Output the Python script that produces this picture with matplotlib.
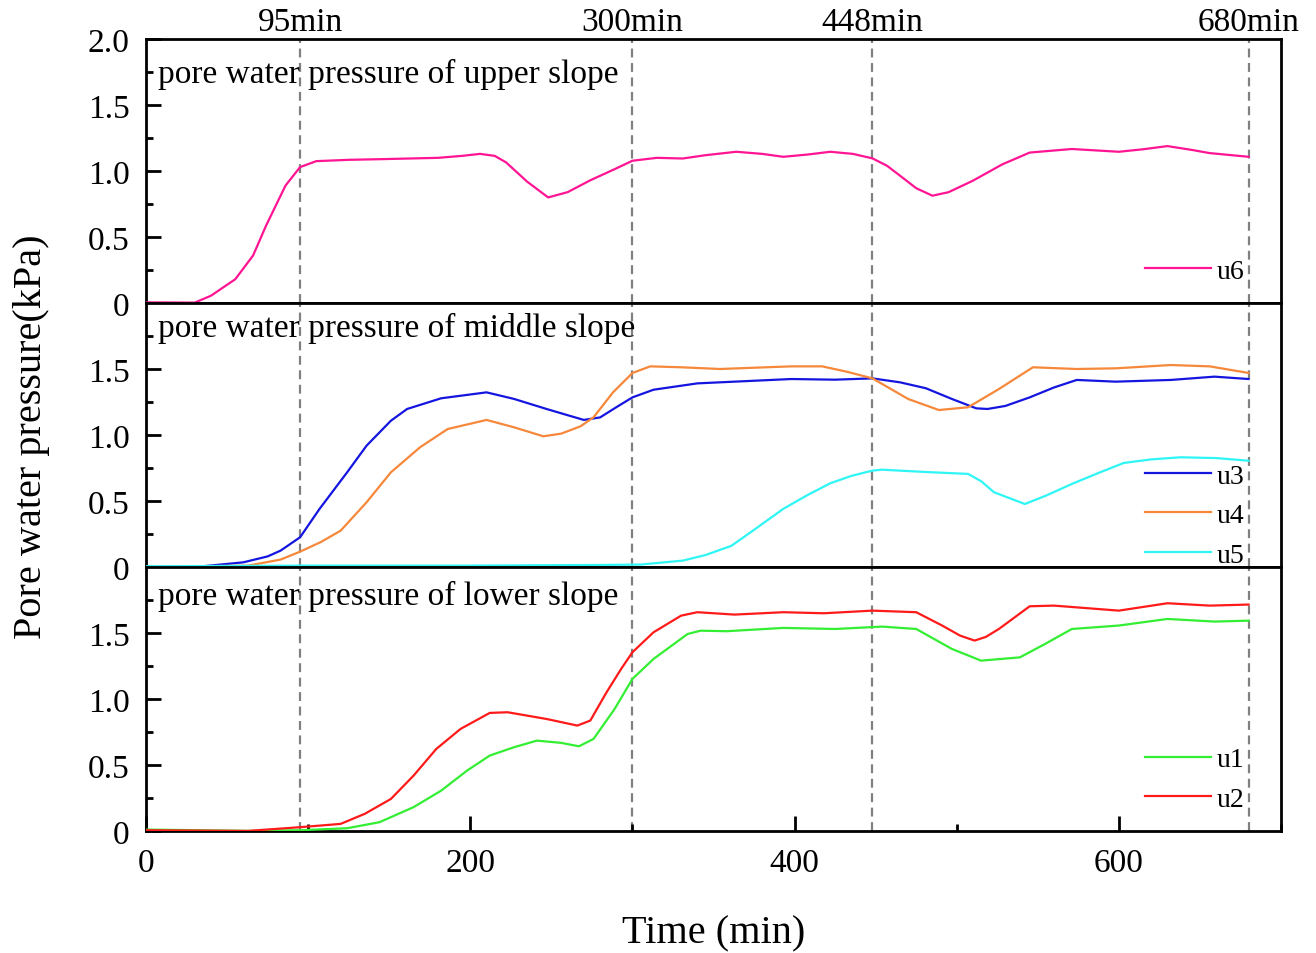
import numpy as np
import matplotlib
matplotlib.use("Agg")
from matplotlib import pyplot as plt
from matplotlib.ticker import MultipleLocator, FixedLocator

plt.rcParams['font.family'] = ['Liberation Serif', 'DejaVu Serif']

# upper slope
t_u6 = [0, 30, 40, 55, 66, 74, 86, 95, 105, 125, 145, 180, 195, 206, 215, 222, 235, 248, 260, 274,
        290, 300, 315, 331, 345, 364, 380, 393, 408, 422, 436, 448, 457, 465, 475, 485, 495, 510,
        528, 545, 571, 600, 615, 630, 645, 656, 680]
u6 = [0.005, 0.003, 0.055, 0.18, 0.36, 0.586, 0.89, 1.03, 1.075, 1.085, 1.09, 1.10, 1.115, 1.13, 1.115,
      1.066, 0.92, 0.80, 0.84, 0.93, 1.02, 1.078, 1.10, 1.095, 1.12, 1.146, 1.13, 1.108, 1.125, 1.146,
      1.13, 1.096, 1.04, 0.965, 0.87, 0.813, 0.84, 0.927, 1.05, 1.14, 1.167, 1.146, 1.165, 1.189,
      1.16, 1.136, 1.108]

# middle slope
t_u3 = [0, 35, 60, 75, 83, 95, 107, 124, 136, 151, 161, 182, 210, 227, 247, 260, 270, 280, 290,
        300, 313, 340, 354, 398, 425, 448, 465, 481, 497, 512, 519, 530, 545, 560, 574, 598, 632,
        659, 680]
u3 = [0.0, 0.005, 0.035, 0.08, 0.124, 0.225, 0.44, 0.717, 0.919, 1.108, 1.197, 1.278, 1.323, 1.273,
      1.197, 1.15, 1.114, 1.133, 1.21, 1.285, 1.343, 1.391, 1.399, 1.424, 1.419, 1.429, 1.399,
      1.354, 1.273, 1.202, 1.197, 1.22, 1.285, 1.36, 1.417, 1.404, 1.417, 1.442, 1.424]

t_u4 = [0, 63, 83, 95, 108, 120, 136, 151, 169, 186, 210, 227, 245, 256, 268, 276, 288, 300, 311,
        330, 354, 398, 417, 432, 448, 470, 489, 507, 526, 547, 574, 598, 632, 656, 680]
u4 = [0.0, 0.01, 0.056, 0.116, 0.19, 0.275, 0.49, 0.717, 0.907, 1.045, 1.114, 1.058, 0.99, 1.01,
      1.066, 1.134, 1.323, 1.47, 1.52, 1.513, 1.50, 1.52, 1.52, 1.48, 1.429, 1.273, 1.189, 1.21,
      1.348, 1.513, 1.50, 1.505, 1.53, 1.52, 1.47]

t_u5 = [0, 100, 200, 280, 305, 331, 345, 361, 376, 393, 408, 422, 435, 448, 454, 480, 507, 515, 523,
        542, 555, 571, 587, 603, 620, 638, 660, 680]
u5 = [0.005, 0.01, 0.01, 0.015, 0.018, 0.048, 0.09, 0.16, 0.29, 0.44, 0.545, 0.634, 0.69, 0.73,
      0.737, 0.72, 0.705, 0.65, 0.566, 0.477, 0.54, 0.629, 0.71, 0.788, 0.815, 0.831, 0.825, 0.805]

# lower slope
t_u1 = [0, 63, 95, 124, 144, 165, 182, 198, 212, 227, 241, 256, 267, 276, 289, 300, 313, 334, 342,
        358, 393, 425, 454, 475, 497, 515, 539, 555, 571, 600, 630, 659, 680]
u1 = [0.01, 0.0, 0.005, 0.02, 0.066, 0.18, 0.305, 0.457, 0.571, 0.634, 0.684, 0.667, 0.641, 0.697,
      0.924, 1.152, 1.303, 1.492, 1.517, 1.513, 1.538, 1.53, 1.548, 1.53, 1.379, 1.29, 1.315, 1.42,
      1.53, 1.556, 1.606, 1.586, 1.593]

t_u2 = [0, 63, 95, 120, 135, 151, 165, 179, 194, 212, 223, 247, 266, 274, 284, 293, 300, 313, 330,
        340, 363, 393, 418, 448, 475, 491, 502, 511, 518, 526, 545, 560, 600, 630, 656, 680]
u2 = [0.005, 0.0, 0.028, 0.053, 0.13, 0.242, 0.419, 0.621, 0.773, 0.894, 0.899, 0.848, 0.798, 0.836,
      1.05, 1.227, 1.354, 1.505, 1.631, 1.657, 1.639, 1.657, 1.649, 1.669, 1.657, 1.556, 1.48,
      1.442, 1.47, 1.53, 1.702, 1.707, 1.669, 1.725, 1.707, 1.715]

stages = [95, 300, 448, 680]
stage_labels = ['95min', '300min', '448min', '680min']

panels = [
    ('pore water pressure of upper slope', [(t_u6, u6, 'u6', '#ff1493')], 0.122),
    ('pore water pressure of middle slope', [(t_u3, u3, 'u3', '#1515e0'),
                                             (t_u4, u4, 'u4', '#f5883a'),
                                             (t_u5, u5, 'u5', '#2ff5f5')], 0.195),
    ('pore water pressure of lower slope', [(t_u1, u1, 'u1', '#33ee33'),
                                            (t_u2, u2, 'u2', '#ff1a1a')], 0.195),
]
title_y = [0.871, 0.909, 0.891]

fig, axes = plt.subplots(3, 1, figsize=(13.16, 9.54), dpi=100, sharex=True)
fig.subplots_adjust(left=0.111, right=0.9734, top=0.958, bottom=0.128, hspace=0)

for i, (ax, (title, series, leg_y)) in enumerate(zip(axes, panels)):
    for t, v, name, c in series:
        ax.plot(t, v, color=c, lw=1.6, label=name, zorder=3)
    for s in stages:
        ax.axvline(s, color='#808080', ls=(0, (4, 2.5)), lw=1.6, zorder=0)
    ax.set_xlim(0, 700)
    ax.set_ylim(0, 2.0)
    if i == 0:
        ax.yaxis.set_major_locator(FixedLocator([0, 0.5, 1.0, 1.5, 2.0]))
        ax.set_yticklabels(['0', '0.5', '1.0', '1.5', '2.0'])
    else:
        ax.yaxis.set_major_locator(FixedLocator([0, 0.5, 1.0, 1.5]))
        ax.set_yticklabels(['0', '0.5', '1.0', '1.5'])
    ax.yaxis.set_minor_locator(FixedLocator([0.25, 0.75, 1.25, 1.75]))
    ax.tick_params(axis='y', which='major', direction='in', length=11, width=2, pad=12, labelsize=24)
    ax.tick_params(axis='y', which='minor', direction='in', length=5, width=2)
    for sp in ax.spines.values():
        sp.set_linewidth(2)
    ax.text(0.0106, title_y[i], title, transform=ax.transAxes, fontsize=24, va='center', ha='left')
    ax.legend(loc='center right', bbox_to_anchor=(0.968, leg_y), frameon=False, fontsize=20,
              handlelength=2.4, handletextpad=0.2, labelspacing=0.5, borderpad=0, borderaxespad=0)
    if i < 2:
        ax.tick_params(axis='x', which='both', bottom=False, labelbottom=False)

ax = axes[2]
ax.xaxis.set_major_locator(MultipleLocator(200))
ax.xaxis.set_minor_locator(MultipleLocator(100))
ax.tick_params(axis='x', which='major', direction='in', length=11, width=2, pad=12, labelsize=24)
ax.tick_params(axis='x', which='minor', direction='in', length=5, width=2)
ax.set_xlabel('Time (min)', fontsize=29, labelpad=26)

for s, lab in zip(stages, stage_labels):
    axes[0].text(s, 1.008, lab, transform=axes[0].get_xaxis_transform(), ha='center', va='bottom',
                 fontsize=24)

fig.text(0.024, 0.542, 'Pore water pressure(kPa)', rotation=90, fontsize=29, va='center', ha='center')

fig.savefig('out.png', dpi=100)
